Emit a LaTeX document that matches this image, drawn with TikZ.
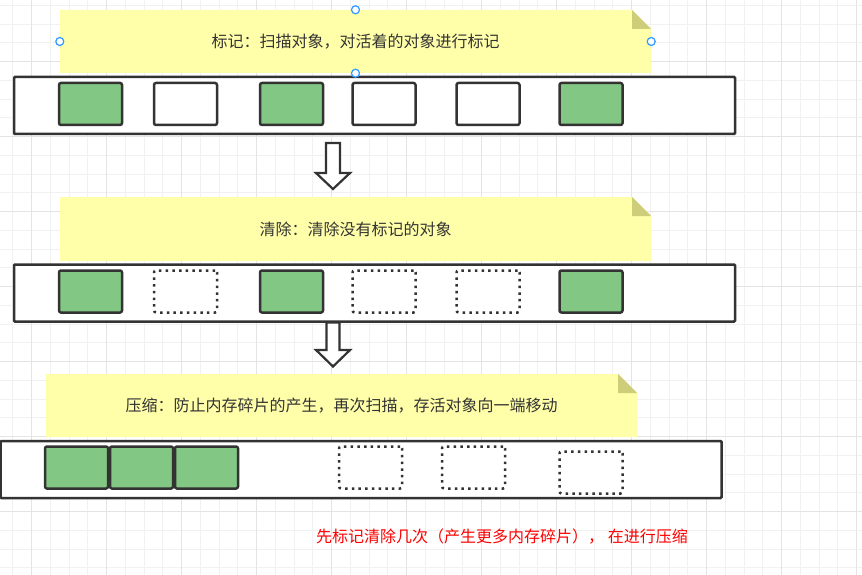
\documentclass[tikz,border=0pt]{standalone}
\usepackage{fontspec}
\usepackage{tikz}
\usetikzlibrary{shapes, positioning, calc}
\newfontfamily\cjk{Noto Sans CJK SC}
\definecolor{notefill}{RGB}{255,255,170}
\definecolor{foldfill}{RGB}{205,205,122}
\definecolor{livegreen}{RGB}{130,199,131}
\definecolor{edgegray}{RGB}{51,51,51}
\definecolor{handleblue}{RGB}{51,153,255}
\definecolor{gridminor}{RGB}{241,241,241}
\definecolor{gridmajor}{RGB}{228,228,228}
\newcommand{\stickynote}[6]{%
	\fill[notefill] (#2,#3) -- ({#4-19},#3) -- (#4,{#3+19}) -- (#4,#5) -- (#2,#5) -- cycle;
	\fill[foldfill] ({#4-19},#3) -- ({#4-19},{#3+19}) -- (#4,{#3+19}) -- cycle;
	\node[notetext, minimum width={#4-#2}, minimum height={#5-#3}] (#1) at ({(#2+#4)/2},{(#3+#5)/2}) {#6};}

\begin{document}
\begin{tikzpicture}[x=1pt, y=-1pt, font=\cjk\fontsize{16}{19}\selectfont,
		notetext/.style={inner sep=0, text=edgegray},
		bar/.style={draw=edgegray, line width=2.5pt, fill=white, minimum width=721pt, minimum height=57pt, rounded corners=1pt},
		live/.style={draw=edgegray, line width=2.5pt, fill=livegreen, minimum width=63pt, minimum height=42pt, rounded corners=2pt, inner sep=0},
		free/.style={draw=edgegray, line width=2.5pt, fill=white, minimum width=63pt, minimum height=42pt, rounded corners=2pt, inner sep=0},
		gone/.style={draw=edgegray, line width=2.5pt, dash pattern=on 2.5pt off 4.2pt, minimum width=63pt, minimum height=42pt, rounded corners=2pt, inner sep=0},
		hollow/.style={draw=edgegray, line width=2.2pt, fill=white, line join=miter},
		handle/.style={circle, draw=handleblue, line width=1.2pt, fill=white, minimum size=8pt, inner sep=0}]
	\useasboundingbox (0,0) rectangle (862,575);
	\foreach \i in {0,...,45}
		\draw[gridminor, line width=1pt] ({12.95+18.75*\i},0) -- ({12.95+18.75*\i},575);
	\foreach \i in {0,...,30}
		\draw[gridminor, line width=1pt] (0,{5.45+18.75*\i}) -- (862,{5.45+18.75*\i});
	\foreach \i in {0,...,11}
		\draw[gridmajor, line width=1pt] ({31.7+75*\i},0) -- ({31.7+75*\i},575);
	\foreach \i in {0,...,6}
		\draw[gridmajor, line width=1pt] (0,{61.7+75*\i}) -- (862,{61.7+75*\i});

	\stickynote{n1}{60}{10}{651}{73}{标记：扫描对象，对活着的对象进行标记}
	\node[bar] (bar1) at (374.5,105.5) {};
	\foreach \x/\s [count=\i] in {90.5/live,185.5/free,291.5/live,384/free,488/free,591/live}
		\node[\s] (r1-\i) at (\x,104) {};
	\foreach \a in {north,west,east,south}
		\node[handle] (h-\a) at (n1.\a) {};

	\coordinate (d1) at (333,143);
	\draw[hollow] (d1) ++(-7,0) -- ++(14,0) -- ++(0,30) -- ++(10,0) -- ++(-17,16) -- ++(-17,-16) -- ++(10,0) -- cycle;

	\stickynote{n2}{60}{197}{651}{261}{清除：清除没有标记的对象}
	\node[bar] (bar2) at (374.5,293) {};
	\foreach \x/\s [count=\i] in {90.5/live,185.5/gone,291.5/live,384/gone,488/gone,591/live}
		\node[\s] (r2-\i) at (\x,291.5) {};

	\coordinate (d2) at (333,322.5);
	\draw[hollow] (d2) ++(-6.5,0) -- ++(13,0) -- ++(0,27.5) -- ++(10.5,0) -- ++(-17,16.5) -- ++(-17,-16.5) -- ++(10.5,0) -- cycle;

	\stickynote{n3}{46}{374}{637}{437}{压缩：防止内存碎片的产生，再次扫描，存活对象向一端移动}
	\node[bar] (bar3) at (361,469.5) {};
	\foreach \x/\y/\s [count=\i] in {76.5/467.5/live,141.5/467.5/live,206.5/467.5/live,370.5/467.5/gone,473.5/467.5/gone,591/472.5/gone}
		\node[\s] (r3-\i) at (\x,\y) {};

	\node[text=red] (tip) at (502,537) {先标记清除几次（产生更多内存碎片）， 在进行压缩};
\end{tikzpicture}
\end{document}
